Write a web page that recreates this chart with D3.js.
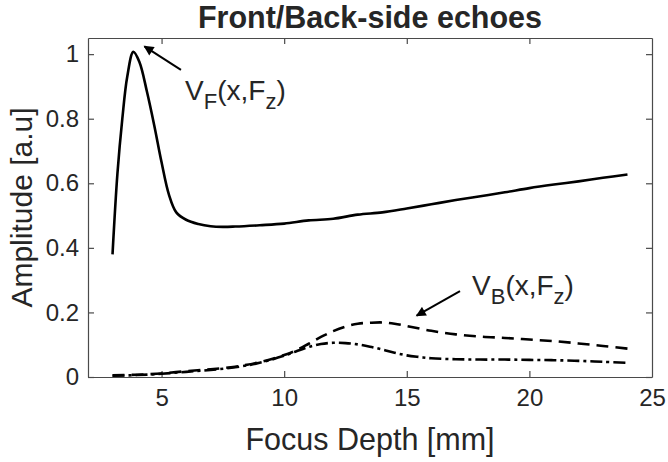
<!DOCTYPE html>
<html>
<head>
<meta charset="utf-8">
<script src="https://cdnjs.cloudflare.com/ajax/libs/d3/7.8.5/d3.min.js"></script>
<style>
    body { margin: 0; background: #fff; }
    text { font-family: "Liberation Sans", Arial, sans-serif; fill: #262626; }
</style>
</head>
<body>
<div class="chart"></div>
<script>
var width = 668;
var height = 462;

// plot box edges (window.top is reserved, so no plain "top")
var boxL = 88, boxR = 652, boxT = 38, boxB = 377;

// focus depth [mm] -> amplitude
var frontX = [3.0, 3.2, 3.4, 3.6, 3.85, 4.1, 4.4, 4.7, 5.0, 5.3, 5.6, 6.0, 6.5, 7.0, 7.5, 8, 9, 10, 11, 12, 13, 14, 15, 16, 17, 18, 19, 20, 21, 22, 23, 24];
var frontY = [0.38, 0.63, 0.80, 0.93, 1.007, 0.975, 0.885, 0.78, 0.665, 0.565, 0.51, 0.487, 0.474, 0.467, 0.465, 0.466, 0.47, 0.475, 0.485, 0.49, 0.503, 0.51, 0.522, 0.535, 0.548, 0.56, 0.572, 0.585, 0.596, 0.606, 0.617, 0.627];

var backX = [3, 4, 5, 6, 7, 8, 9, 10, 10.5, 11, 11.5, 12, 12.5, 13, 13.5, 14, 14.5, 15, 16, 17, 18, 19, 20, 21, 22, 23, 24];
var backY = [0.005, 0.007, 0.011, 0.018, 0.024, 0.032, 0.046, 0.068, 0.083, 0.103, 0.124, 0.142, 0.156, 0.165, 0.168, 0.169, 0.165, 0.158, 0.143, 0.132, 0.125, 0.121, 0.116, 0.111, 0.104, 0.096, 0.088];

var sideX = [3, 4, 5, 6, 7, 8, 9, 10, 10.5, 11, 11.5, 12, 12.5, 13, 13.5, 14, 14.5, 15, 15.5, 16, 17, 18, 19, 20, 21, 22, 23, 24];
var sideY = [0.004, 0.006, 0.010, 0.016, 0.022, 0.030, 0.044, 0.066, 0.080, 0.093, 0.102, 0.106, 0.105, 0.101, 0.094, 0.085, 0.075, 0.067, 0.062, 0.058, 0.055, 0.054, 0.054, 0.053, 0.052, 0.050, 0.047, 0.044];

var xTicks = [5, 10, 15, 20, 25];
var yTicks = [0, 0.2, 0.4, 0.6, 0.8, 1];

var svg = d3.select('.chart').append('svg')
    .attr('width', width)
    .attr('height', height);

var x = d3.scaleLinear().domain([2, 25]).range([boxL, boxR]);
var y = d3.scaleLinear().domain([0, 1.05]).range([boxB, boxT]);

svg.append('defs').append('marker')
    .attr('id', 'head')
    .attr('viewBox', '0 0 10 10')
    .attr('refX', 9)
    .attr('refY', 5)
    .attr('markerWidth', 5.5)
    .attr('markerHeight', 5)
    .attr('markerUnits', 'strokeWidth')
    .attr('orient', 'auto')
  .append('path')
    .attr('d', 'M0,0 L10,5 L0,10 z')
    .attr('fill', '#000');

// axes with inward ticks, MATLAB box style
var axisColor = '#4a4a4a';
var gx = svg.append('g')
    .attr('transform', 'translate(0,' + boxB + ')')
    .call(d3.axisBottom(x).tickValues(xTicks).tickSizeInner(-6).tickSizeOuter(0).tickPadding(12));
var gy = svg.append('g')
    .attr('transform', 'translate(' + boxL + ',0)')
    .call(d3.axisLeft(y).tickValues(yTicks).tickSizeInner(-6).tickSizeOuter(0).tickPadding(9)
        .tickFormat(function (d) { return d === 0 || d === 1 ? d : d3.format('.1f')(d); }));
var gxTop = svg.append('g')
    .attr('transform', 'translate(0,' + boxT + ')')
    .call(d3.axisTop(x).tickValues(xTicks).tickSizeInner(-6).tickSizeOuter(0).tickFormat(''));
var gyRight = svg.append('g')
    .attr('transform', 'translate(' + boxR + ',0)')
    .call(d3.axisRight(y).tickValues(yTicks).tickSizeInner(-6).tickSizeOuter(0).tickFormat(''));

[gx, gy, gxTop, gyRight].forEach(function (g) {
    g.select('.domain').attr('stroke', axisColor).attr('stroke-width', 1.2);
    g.selectAll('.tick line').attr('stroke', axisColor).attr('stroke-width', 1.2);
    g.selectAll('.tick text').attr('font-size', 24).attr('fill', '#262626')
        .attr('font-family', '"Liberation Sans", Arial, sans-serif');
});
// the last x tick sits on the corner, keep its line off
gx.selectAll('.tick').filter(function (d) { return d === 25; }).select('line').remove();
gxTop.selectAll('.tick').filter(function (d) { return d === 25; }).select('line').remove();

// curves
var line = d3.line()
    .x(function (d) { return x(d[0]); })
    .y(function (d) { return y(d[1]); })
    .curve(d3.curveCatmullRom);

function pairs(xs, ys) {
    return xs.map(function (v, i) { return [v, ys[i]]; });
}

svg.append('path')
    .datum(pairs(frontX, frontY))
    .attr('d', line)
    .attr('fill', 'none')
    .attr('stroke', '#000')
    .attr('stroke-width', 2.6);

svg.append('path')
    .datum(pairs(backX, backY))
    .attr('d', line)
    .attr('fill', 'none')
    .attr('stroke', '#000')
    .attr('stroke-width', 2.6)
    .attr('stroke-dasharray', '12,7');

svg.append('path')
    .datum(pairs(sideX, sideY))
    .attr('d', line)
    .attr('fill', 'none')
    .attr('stroke', '#000')
    .attr('stroke-width', 2.6)
    .attr('stroke-dasharray', '12,4,3,4');

// annotations
function arrow(x1, y1, x2, y2) {
    svg.append('line')
        .attr('x1', x(x1)).attr('y1', y(y1))
        .attr('x2', x(x2)).attr('y2', y(y2))
        .attr('stroke', '#000')
        .attr('stroke-width', 2)
        .attr('marker-end', 'url(#head)');
}

function label(xv, yv, main, sub1, sub2) {
    var t = svg.append('text')
        .attr('x', x(xv))
        .attr('y', y(yv))
        .attr('font-size', 28)
        .attr('fill', '#000');
    t.append('tspan').text(main);
    t.append('tspan').attr('font-size', 22).attr('dy', 9).text(sub1);
    t.append('tspan').attr('dy', -9).text('(x,F');
    t.append('tspan').attr('font-size', 22).attr('dy', 9).text(sub2);
    t.append('tspan').attr('dy', -9).text(')');
}

arrow(5.79, 0.951, 4.3, 1.024);
label(5.96, 0.858, 'V', 'F', 'z');

arrow(17.17, 0.266, 15.4, 0.19);
label(17.66, 0.254, 'V', 'B', 'z');

// title and axis labels
svg.append('text')
    .attr('x', (boxL + boxR) / 2)
    .attr('y', 28)
    .attr('text-anchor', 'middle')
    .attr('font-size', 30.5)
    .attr('font-weight', 'bold')
    .attr('fill', '#000')
    .text('Front/Back-side echoes');

svg.append('text')
    .attr('x', (boxL + boxR) / 2)
    .attr('y', 450)
    .attr('text-anchor', 'middle')
    .attr('font-size', 30.5)
    .text('Focus Depth [mm]');

svg.append('text')
    .attr('transform', 'translate(32,' + (boxT + boxB) / 2 + ') rotate(-90)')
    .attr('text-anchor', 'middle')
    .attr('font-size', 30)
    .text('Amplitude [a.u]');
</script>
</body>
</html>
